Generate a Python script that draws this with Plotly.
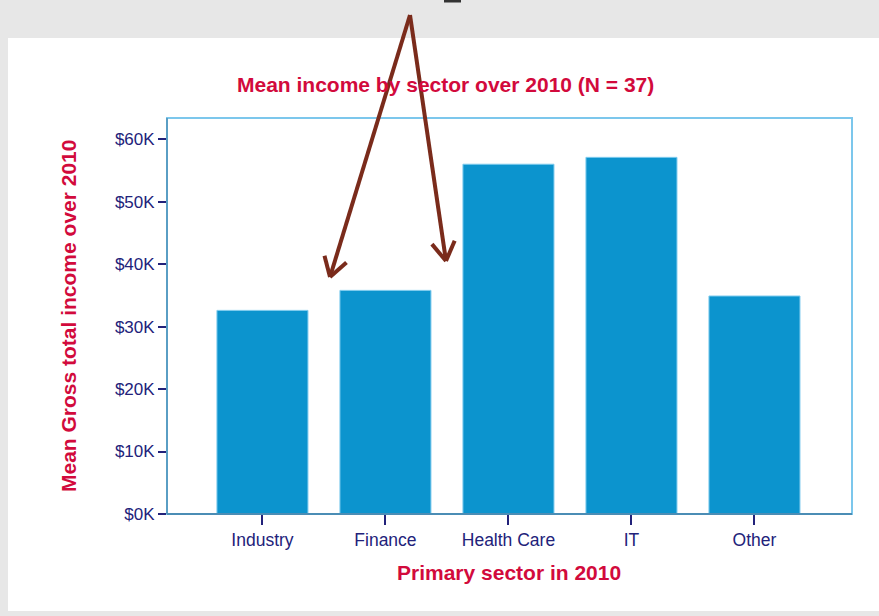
import math
import plotly.graph_objects as go

# ---- data ----
sectors = ["Industry", "Finance", "Health Care", "IT", "Other"]
mean_income = [32600, 35800, 56000, 57100, 34900]
ytick_vals = [0, 10000, 20000, 30000, 40000, 50000, 60000]
ytick_text = ["$0K", "$10K", "$20K", "$30K", "$40K", "$50K", "$60K"]

title_text = "Mean income by sector over 2010 (N = 37)"
ytitle_text = "Mean Gross total income over 2010"
xtitle_text = "Primary sector in 2010"

# ---- layout geometry (pixels) ----
W, H = 879, 616
L, R, T, B = 167, 852, 118, 514
PW, PH = R - L, B - T

def px(x):
    return (x - L) / PW

def py(y):
    return (B - y) / PH

RED = "#d20a3c"
NAVY = "#22227a"
BAR = "#0c94ce"
BROWN = "#7a2b1b"
FONT = "Liberation Sans, Arial"

fig = go.Figure(go.Bar(
    x=sectors, y=mean_income,
    marker=dict(color=BAR, line=dict(color="#7fcbee", width=1)),
    width=0.74,
))

shapes = []
# white panel on grey background
shapes.append(dict(type="rect", xref="paper", yref="paper", layer="below",
                   x0=px(8), x1=px(882), y0=py(38), y1=py(611),
                   fillcolor="white", line=dict(width=0)))
# small dark mark at top
shapes.append(dict(type="rect", xref="paper", yref="paper",
                   x0=px(444), x1=px(461), y0=py(0), y1=py(2.5),
                   fillcolor="#333333", line=dict(width=0)))
# frame (top/right light blue)
shapes.append(dict(type="rect", xref="paper", yref="paper", layer="above",
                   x0=0, x1=1, y0=0, y1=1,
                   line=dict(color="#7cc7ec", width=2)))
# left & bottom darker lines
shapes.append(dict(type="line", xref="paper", yref="paper", layer="above",
                   x0=0, x1=0, y0=0, y1=1, line=dict(color="#5a9ec4", width=2)))
shapes.append(dict(type="line", xref="paper", yref="paper", layer="above",
                   x0=0, x1=1, y0=0, y1=0, line=dict(color="#4b8db5", width=2)))

# hand-drawn arrows
apex = (410, 15)
tips = [(330, 277), (446, 261)]
for tx, ty in tips:
    shapes.append(dict(type="line", xref="paper", yref="paper", layer="above",
                       x0=px(apex[0]), y0=py(apex[1]), x1=px(tx), y1=py(ty),
                       line=dict(color=BROWN, width=4)))
    ang = math.atan2(apex[1] - ty, apex[0] - tx)
    for d in (0.55, -0.55):
        ex = tx + 22 * math.cos(ang + d)
        ey = ty + 22 * math.sin(ang + d)
        shapes.append(dict(type="line", xref="paper", yref="paper", layer="above",
                           x0=px(tx), y0=py(ty), x1=px(ex), y1=py(ey),
                           line=dict(color=BROWN, width=4)))

annotations = [
    dict(text=title_text, xref="paper", yref="paper", x=px(445), y=py(84),
         showarrow=False, xanchor="center", yanchor="middle",
         font=dict(family=FONT, size=21, color=RED, weight="bold")),
    dict(text=ytitle_text, xref="paper", yref="paper", x=px(68), y=py(316),
         showarrow=False, textangle=-90, xanchor="center", yanchor="middle",
         font=dict(family=FONT, size=21, color=RED, weight="bold")),
    dict(text=xtitle_text, xref="paper", yref="paper", x=px(509), y=py(572),
         showarrow=False, xanchor="center", yanchor="middle",
         font=dict(family=FONT, size=21, color=RED, weight="bold")),
]

fig.update_layout(
    width=W, height=H,
    margin=dict(l=L, r=W - R, t=T, b=H - B, pad=0),
    paper_bgcolor="#e7e7e7",
    plot_bgcolor="white",
    showlegend=False,
    bargap=0.26,
    shapes=shapes,
    annotations=annotations,
    font=dict(family=FONT, size=13, color=NAVY),
)
fig.update_xaxes(
    range=[-0.776, 4.793], showgrid=False, zeroline=False, showline=False,
    ticks="outside", ticklen=10, tickwidth=2, tickcolor=NAVY,
    tickfont=dict(size=17.5, color=NAVY),
)
fig.update_yaxes(
    range=[0, 63400], showgrid=False, zeroline=False, showline=False,
    tickvals=ytick_vals, ticktext=ytick_text,
    ticks="outside", ticklen=8, tickwidth=2, tickcolor=NAVY,
    tickfont=dict(size=17, color=NAVY),
)

fig.write_html(
    "out.html",
    config={"displayModeBar": False},
    post_script="document.body.style.margin='0';document.body.style.overflow='hidden';",
)
